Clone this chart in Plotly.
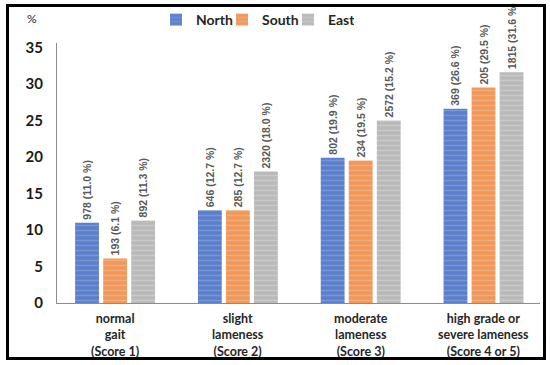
import plotly.graph_objects as go

categories = ["normal gait (Score 1)", "slight lameness (Score 2)",
              "moderate lameness (Score 3)", "high grade or severe lameness (Score 4 or 5)"]
cat_labels = ["normal<br>gait<br>(Score 1)", "slight<br>lameness<br>(Score 2)",
              "moderate<br>lameness<br>(Score 3)", "high grade or<br>severe lameness<br>(Score 4 or 5)"]

north_values = [11.0, 12.7, 19.9, 26.6]
south_values = [6.1, 12.7, 19.5, 29.5]
east_values = [11.3, 18.0, 25.0, 31.6]

north_labels = ["978 (11.0 %)", "646 (12.7 %)", "802 (19.9 %)", "369 (26.6 %)"]
south_labels = ["193 (6.1 %)", "285 (12.7 %)", "234 (19.5 %)", "205 (29.5 %)"]
east_labels = ["892 (11.3 %)", "2320 (18.0 %)", "2572 (15.2 %)", "1815 (31.6 %)"]

series = [
    ("North", north_values, north_labels, "#5B7FCB", "#93ACDF"),
    ("South", south_values, south_labels, "#F0975A", "#F7C09A"),
    ("East", east_values, east_labels, "#B9B9B9", "#DADADA"),
]

x_idx = list(range(len(categories)))

W, H = 550, 365
def px(x):
    return x / W
def py(y):
    return 1 - y / H

fig = go.Figure()
for name, vals, labels, bg, fg in series:
    fig.add_trace(go.Bar(
        name=name, x=x_idx, y=vals, text=labels,
        textposition="outside", textangle=-90, cliponaxis=False, constraintext="none",
        textfont=dict(family="Liberation Sans", size=10.5, color="#595959", weight="bold"),
        marker=dict(color=bg, line=dict(width=0),
                    pattern=dict(shape="-", fgcolor=fg, bgcolor=bg, size=5, solidity=0.3)),
    ))

annotations = []
for i, lab in enumerate(cat_labels):
    annotations.append(dict(
        x=i, y=0, xref="x", yref="y", text=lab, showarrow=False,
        xanchor="center", yanchor="top", yshift=-6,
        font=dict(family="Lato", size=12.5, color="#262626", weight="bold"),
    ))
annotations.append(dict(
    x=px(32), y=py(18), xref="paper", yref="paper", text="%", showarrow=False,
    xanchor="center", yanchor="middle",
    font=dict(family="Lato", size=12, color="#262626"),
))
# outer black frame drawn as an empty bordered annotation box
annotations.append(dict(
    x=px(276), y=py(182.25), xref="paper", yref="paper", text=" ", showarrow=False,
    xanchor="center", yanchor="middle", width=534, height=350,
    borderwidth=3, borderpad=0, bordercolor="black", bgcolor="rgba(0,0,0,0)",
    font=dict(size=10),
))

fig.update_layout(
    width=W, height=H, autosize=False,
    margin=dict(l=0, r=0, t=0, b=0, pad=0),
    paper_bgcolor="white", plot_bgcolor="white",
    barmode="group", bargap=0.315, bargroupgap=0.15,
    showlegend=True,
    legend=dict(orientation="h", x=px(156), y=py(20), xanchor="left", yanchor="middle",
                xref="paper", yref="paper",
                font=dict(family="Lato", size=14, color="#262626", weight="bold"),
                itemwidth=30, entrywidth=21, entrywidthmode="pixels",
                traceorder="normal", bgcolor="rgba(0,0,0,0)"),
    xaxis=dict(domain=[px(57), px(540)], range=[-0.473, 3.46], showticklabels=False,
               showgrid=False, automargin=False,
               showline=True, linecolor="#8C8C8C", linewidth=1, zeroline=False, ticks=""),
    yaxis=dict(domain=[py(303), py(43)], range=[0, 35.6], tick0=0, dtick=5,
               showgrid=False, zeroline=False, automargin=False,
               showline=True, linecolor="#8C8C8C", linewidth=1, ticks="",
               ticklabelstandoff=10,
               tickfont=dict(family="Lato", size=15, color="#1a1a1a", weight="bold")),
    annotations=annotations,
)

fig.write_html("out.html", config={"displayModeBar": False},
               post_script="document.body.style.margin='0px';")
